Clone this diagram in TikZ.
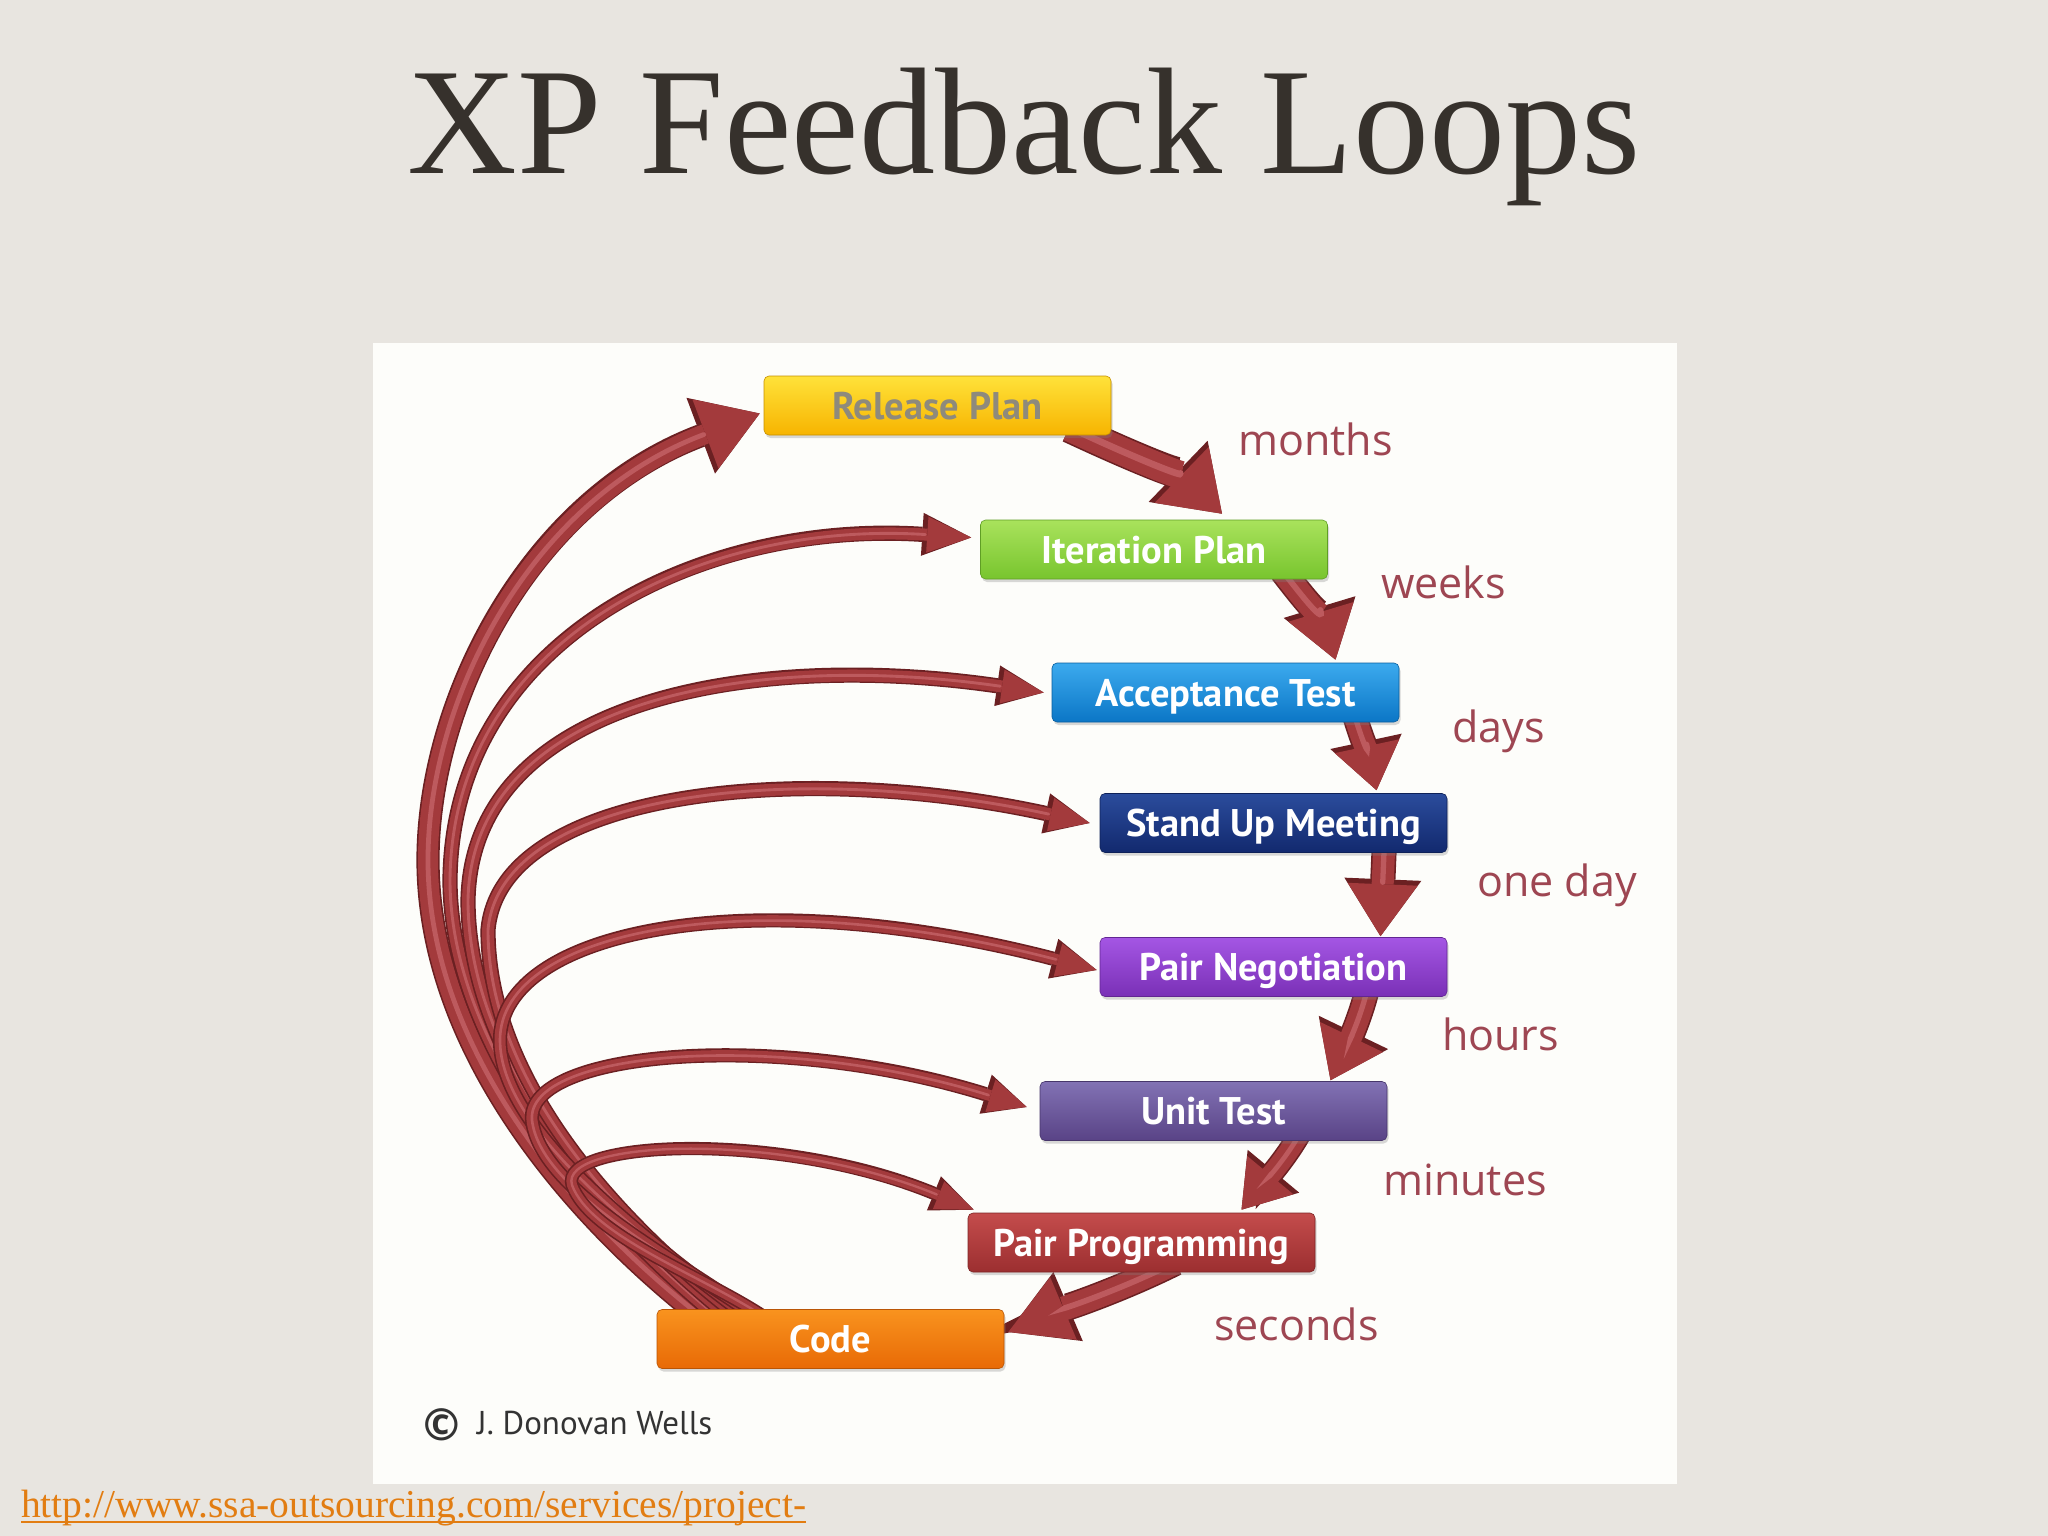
\documentclass[tikz,border=0pt]{standalone}
\usepackage{fontspec}
\setmainfont{Liberation Serif}
\newfontfamily\boxfont{PT Sans}
\newfontfamily\labfont{Open Sans}
\usetikzlibrary{arrows.meta,calc,shadows}
\pgfdeclarelayer{back}
\pgfdeclarelayer{arrowlayer}
\pgfsetlayers{back,arrowlayer,main}
\definecolor{bgcol}{HTML}{E8E5E0}
\definecolor{panelcol}{HTML}{FDFDFA}
\definecolor{titlecol}{HTML}{36312C}
\definecolor{labcol}{HTML}{9E4652}
\definecolor{arrowfill}{HTML}{A33A3C}
\definecolor{arrowedge}{HTML}{6B2022}
\definecolor{arrowhi}{HTML}{BD5A5E}
\definecolor{urlcol}{HTML}{E27D12}
\definecolor{copycol}{HTML}{333333}
\definecolor{relT}{HTML}{FFE23A}
\definecolor{relB}{HTML}{F7B400}
\definecolor{reltext}{HTML}{8E8A7C}
\definecolor{itT}{HTML}{A9E25C}
\definecolor{itB}{HTML}{78C52E}
\definecolor{acT}{HTML}{3CAAEE}
\definecolor{acB}{HTML}{0B76C6}
\definecolor{suT}{HTML}{2B4C9C}
\definecolor{suB}{HTML}{12296E}
\definecolor{pnT}{HTML}{A456E4}
\definecolor{pnB}{HTML}{7A30B6}
\definecolor{utT}{HTML}{8272B4}
\definecolor{utB}{HTML}{594386}
\definecolor{ppT}{HTML}{C44C4C}
\definecolor{ppB}{HTML}{9C2F30}
\definecolor{cdT}{HTML}{F9931E}
\definecolor{cdB}{HTML}{E86A06}
\newcommand\fbarrow[4]{%
  \pgfmathsetmacro\fbS{#1+3.2}%
  \pgfmathsetmacro\fbL{#2+5}%
  \pgfmathsetmacro\fbW{#3+7}%
  \pgfmathsetmacro\fbH{#1*0.24}%
  \pgfmathsetmacro\fbSh{#2+2}%
  \draw[arrowedge, line width=\fbS pt, -{Triangle[length=\fbL pt, width=\fbW pt, line width=0pt]}] #4;
  \draw[arrowfill, line width=#1pt, -{Triangle[length=#2pt, width=#3pt, line width=0pt]}] #4;
  \draw[arrowhi, line width=\fbH pt, line cap=round, shorten >=\fbSh pt, shorten <=2pt] #4;
}
\tikzset{
  box/.style 2 args={rectangle, rounded corners=5pt, minimum width=347pt, minimum height=59pt,
    inner sep=0pt, top color=#1, bottom color=#2, draw=#2!80!black, line width=0.6pt,
    text=white, font=\boxfont\bfseries\fontsize{38.5}{42}\selectfont,
    text height=27pt, text depth=0pt,
    drop shadow={shadow xshift=1.5pt, shadow yshift=-3pt, opacity=0.3}},
  lab/.style={font=\labfont\fontsize{43}{50}\selectfont, text=labcol, inner sep=0pt, anchor=base west}
}
\begin{document}
\begin{tikzpicture}[x=1pt,y=-1pt]
\useasboundingbox (0,0) rectangle (2048,1536);
\begin{pgfonlayer}{back}
\fill[bgcol] (0,0) rectangle (2048,1536);
\fill[panelcol] (373,343) rectangle (1677,1484);
\end{pgfonlayer}

\node[font=\fontsize{152}{172}\selectfont, text=titlecol, anchor=base, inner sep=0pt] (title) at (1024,174) {XP Feedback Loops};

\node[box={relT}{relB}, text=reltext] (release) at (937.5,405.5) {Release Plan};
\node[box={itT}{itB}] (iteration) at (1154,549.5) {Iteration Plan};
\node[box={acT}{acB}] (acceptance) at (1225.5,692.5) {Acceptance Test};
\node[box={suT}{suB}] (standup) at (1273.5,823) {Stand Up Meeting};
\node[box={pnT}{pnB}] (pairneg) at (1273.5,967) {Pair Negotiation};
\node[box={utT}{utB}] (unittest) at (1213.5,1111) {Unit Test};
\node[box={ppT}{ppB}] (pairprog) at (1141.5,1242.5) {Pair Programming};
\node[box={cdT}{cdB}] (code) at (830.5,1339) {Code};

\node[lab] (lmonths) at (1238,455) {months};
\node[lab] (lweeks) at (1381,598) {weeks};
\node[lab] (ldays) at (1452,742) {days};
\node[lab] (loneday) at (1477,896) {one day};
\node[lab] (lhours) at (1442,1050) {hours};
\node[lab] (lminutes) at (1383,1195) {minutes};
\node[lab] (lseconds) at (1214,1340) {seconds};

\node[font=\labfont\bfseries\fontsize{44}{44}\selectfont, text=copycol, inner sep=0pt] (copysym) at (442,1425) {\textcopyright};
\node[font=\boxfont\fontsize{33}{36}\selectfont, text=copycol, anchor=base west, inner sep=0pt] (author) at (477,1434) {J. Donovan Wells};

\node[font=\fontsize{39.5}{44}\selectfont, text=urlcol, anchor=base west, inner sep=0pt] (url) at (21,1517) {http://www.ssa-outsourcing.com/services/project-};
\draw[urlcol, line width=2pt] ($(url.base west)+(0,5)$) -- ($(url.base east)+(0,5)$);

\begin{pgfonlayer}{arrowlayer}
% feedback loops
\fbarrow{20}{58}{74}{($(code.north west)+(43,6)$) .. controls (560,1205) and (428,1040) .. (428,860) .. controls (428,700) and (530,500) .. ($(release.west)+(-4,8)$)}
\fbarrow{12}{44}{36}{($(code.north west)+(59,6)$) .. controls (582,1205) and (450,1040) .. (450,880) .. controls (452,640) and (700,520) .. ($(iteration.west)+(-9,-12)$)}
\fbarrow{12}{42}{34}{($(code.north west)+(71,6)$) .. controls (600,1210) and (468,1060) .. (468,900) .. controls (472,700) and (750,650) .. ($(acceptance.west)+(-8,0)$)}
\fbarrow{12}{40}{34}{($(code.north west)+(81,6)$) .. controls (615,1220) and (488,1080) .. (488,930) .. controls (500,790) and (800,760) .. ($(standup.west)+(-10,0)$)}
\fbarrow{11}{40}{34}{($(code.north west)+(89,6)$) .. controls (640,1235) and (500,1130) .. (500,1040) .. controls (500,930) and (750,880) .. ($(pairneg.west)+(-3,3)$)}
\fbarrow{11}{38}{34}{($(code.north west)+(97,6)$) .. controls (670,1255) and (540,1190) .. (532,1120) .. controls (526,1050) and (780,1030) .. ($(unittest.west)+(-13,-4)$)}
\fbarrow{10}{38}{30}{($(code.north west)+(105,6)$) .. controls (700,1275) and (590,1235) .. (572,1185) .. controls (558,1140) and (780,1130) .. ($(pairprog.north west)+(6,-3)$)}
% forward steps
\fbarrow{28}{56}{78}{($(release.south east)+(-42,-8)$) .. controls (1135,458) and (1185,478) .. ($(iteration.north)+(68,-6)$)}
\fbarrow{24}{50}{68}{($(iteration.south east)+(-45,-8)$) .. controls (1305,600) and (1325,625) .. ($(acceptance.north)+(110,-3)$)}
\fbarrow{22}{45}{66}{($(acceptance.south east)+(-45,-8)$) .. controls (1362,740) and (1370,760) .. ($(standup.north)+(103,-3)$)}
\fbarrow{22}{52}{70}{($(standup.south east)+(-63,-8)$) -- ($(pairneg.north)+(107,-1)$)}
\fbarrow{22}{48}{70}{($(pairneg.south east)+(-80,-8)$) .. controls (1360,1020) and (1345,1050) .. ($(unittest.north)+(117,-1)$)}
\fbarrow{20}{45}{60}{($(unittest.south east)+(-87,-8)$) .. controls (1285,1160) and (1262,1185) .. ($(pairprog.north)+(100,-3)$)}
\fbarrow{24}{60}{68}{($(pairprog.south east)+(-140,-10)$) .. controls (1120,1290) and (1060,1310) .. ($(code.east)+(4,-7)$)}
\end{pgfonlayer}
\end{tikzpicture}
\end{document}
